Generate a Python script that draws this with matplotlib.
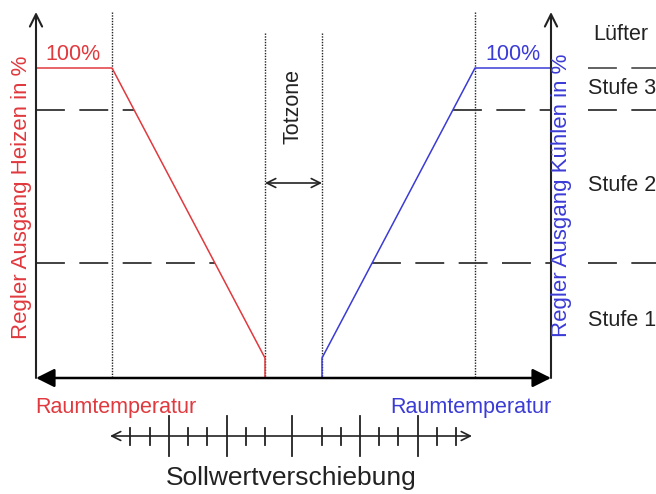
import matplotlib.pyplot as plt

plt.rcParams['font.family'] = ['Liberation Sans', 'DejaVu Sans']

RED = '#e0393e'
BLUE = '#3b3bd6'
DARK = '#222222'

# diagram layout in pixel units (x to the right, y downward)
x_left_axis, x_right_axis = 36, 551
y_base, y_top = 378, 12

# controller output curves
heat_x = [36, 112, 265, 265]
heat_y = [68, 68, 358, 378]
cool_x = [322, 322, 475, 551]
cool_y = [378, 358, 68, 68]

# vertical dotted guides
guide_x = [112, 265, 322, 475]
guide_top = [12, 33, 33, 12]

# fan stage thresholds (dashed)
stage_y = [110, 263]
stage_left_end = [134, 215]
stage_right_start = [453, 372]
luefter_y = 68

stage_labels = ['Lüfter', 'Stufe 3', 'Stufe 2', 'Stufe 1']
stage_label_x = [593, 588, 588, 588]
stage_label_y = [35, 88, 185, 320]

# setpoint shift scale
scale_y = 436
scale_ends = [110, 472]
short_ticks = [130, 150, 188, 207, 246, 265, 322, 341, 379, 398, 437, 456]
long_ticks = [169, 227, 292, 360, 418]

fig = plt.figure(figsize=(6.56, 4.94), dpi=100)
ax = fig.add_axes([0, 0, 1, 1])
ax.set_xlim(0, 656)
ax.set_ylim(494, 0)
ax.axis('off')

# dotted guides
for gx, gt in zip(guide_x, guide_top):
    ax.plot([gx, gx], [gt, y_base], color=DARK, lw=1.0, ls=(0, (1, 1)))

# dashed stage lines
dash = (0, (16, 8))
for sy, le, rs in zip(stage_y, stage_left_end, stage_right_start):
    ax.plot([x_left_axis, le], [sy, sy], color='#333333', lw=1.3, ls=dash)
    ax.plot([rs, x_right_axis], [sy, sy], color='#333333', lw=1.3, ls=dash)
    ax.plot([588, 656], [sy, sy], color='#333333', lw=1.3, ls=dash)
ax.plot([588, 656], [luefter_y, luefter_y], color='#555555', lw=1.3, ls=dash)

# curves
ax.plot(heat_x, heat_y, color=RED, lw=1.1)
ax.plot(cool_x, cool_y, color=BLUE, lw=1.1)

# vertical axes with open arrow heads
for xa in (x_left_axis, x_right_axis):
    ax.annotate('', xy=(xa, y_top), xytext=(xa, y_base),
                arrowprops=dict(arrowstyle='->', color=DARK, lw=1.5,
                                mutation_scale=22, shrinkA=0, shrinkB=0))

# horizontal axis, filled heads both sides
ax.annotate('', xy=(x_right_axis, y_base), xytext=(x_left_axis, y_base),
            arrowprops=dict(arrowstyle='<|-|>', color='black', lw=1.8,
                            mutation_scale=28, shrinkA=0, shrinkB=0))

# Totzone arrow
ax.annotate('', xy=(322, 183), xytext=(265, 183),
            arrowprops=dict(arrowstyle='<->', color=DARK, lw=1.2,
                            mutation_scale=16, shrinkA=0, shrinkB=0))
ax.text(293, 106, 'Totzone', rotation=90, ha='center', va='center',
        fontsize=15.5, color=DARK)

# setpoint scale
ax.annotate('', xy=(scale_ends[1], scale_y), xytext=(scale_ends[0], scale_y),
            arrowprops=dict(arrowstyle='<->', color=DARK, lw=1.2,
                            mutation_scale=16, shrinkA=0, shrinkB=0))
for t in short_ticks:
    ax.plot([t, t], [scale_y - 8, scale_y + 9], color=DARK, lw=1.3)
for t in long_ticks:
    ax.plot([t, t], [scale_y - 20, scale_y + 20], color=DARK, lw=1.3)
ax.text(291, 478, 'Sollwertverschiebung', ha='center', va='center',
        fontsize=19, color=DARK)

# labels
ax.text(45, 54, '100%', ha='left', va='center', fontsize=15.5, color=RED)
ax.text(485, 54, '100%', ha='left', va='center', fontsize=15.5, color=BLUE)
ax.text(22, 197, 'Regler Ausgang Heizen in %', rotation=90, ha='center',
        va='center', fontsize=16, color=RED)
ax.text(562, 195, 'Regler Ausgang Kühlen in %', rotation=90, ha='center',
        va='center', fontsize=16, color=BLUE)
ax.text(35, 407, 'Raumtemperatur', ha='left', va='center', fontsize=15.5, color=RED)
ax.text(551, 407, 'Raumtemperatur', ha='right', va='center', fontsize=15.5, color=BLUE)

for lab, lx, ly in zip(stage_labels, stage_label_x, stage_label_y):
    ax.text(lx, ly, lab, ha='left', va='center', fontsize=15.5, color=DARK)

fig.savefig('out.png', dpi=100)
